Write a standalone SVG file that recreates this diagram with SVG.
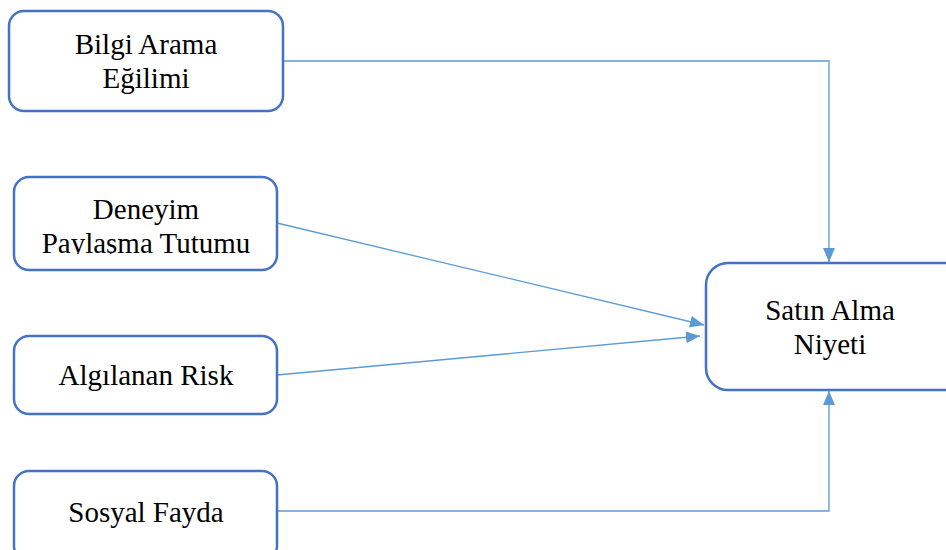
<svg xmlns="http://www.w3.org/2000/svg" width="946" height="550" viewBox="0 0 946 550">
  <style>
    .box { fill: #ffffff; stroke: #4472C4; stroke-width: 2.5; }
    .lbl { font-family: "Liberation Serif", "Times New Roman", serif; font-size: 29px; fill: #000000; text-anchor: middle; }
    .conn { fill: none; stroke: #5B9BD5; stroke-width: 1.3; }
  </style>
  <defs>
    <marker id="arrow" viewBox="0 0 14 12" refX="14" refY="6" markerWidth="14" markerHeight="12" markerUnits="userSpaceOnUse" orient="auto">
      <path d="M0,0 L14,6 L0,12 Z" fill="#5B9BD5"/>
    </marker>
    <clipPath id="clipDeneyim">
      <rect x="14" y="177" width="263" height="77"/>
    </clipPath>
  </defs>
  <rect width="946" height="550" fill="#ffffff"/>

  <g id="connectors">
    <path class="conn" d="M283,61 H829 V262" marker-end="url(#arrow)"/>
    <path class="conn" d="M277,223 L704,325" marker-end="url(#arrow)"/>
    <path class="conn" d="M277,375 L700,336" marker-end="url(#arrow)"/>
    <path class="conn" d="M277,511 H829 V391" marker-end="url(#arrow)"/>
  </g>

  <g id="bilgi-arama">
    <rect class="box" x="9" y="11" width="274" height="100" rx="15"/>
    <text class="lbl" x="146" y="54">Bilgi Arama</text>
    <text class="lbl" x="146" y="88">Eğilimi</text>
  </g>

  <g id="deneyim-paylasma">
    <rect class="box" x="14" y="177" width="263" height="93" rx="15"/>
    <g clip-path="url(#clipDeneyim)">
      <text class="lbl" x="146" y="219">Deneyim</text>
      <text class="lbl" x="146" y="253">Paylaşma Tutumu</text>
    </g>
  </g>

  <g id="algilanan-risk">
    <rect class="box" x="14" y="336" width="263" height="78" rx="15"/>
    <text class="lbl" x="146" y="385">Algılanan Risk</text>
  </g>

  <g id="sosyal-fayda">
    <rect class="box" x="14" y="471" width="263" height="90" rx="15"/>
    <text class="lbl" x="146" y="522">Sosyal Fayda</text>
  </g>

  <g id="satin-alma">
    <rect class="box" x="706" y="263" width="260" height="127" rx="22"/>
    <text class="lbl" x="830" y="320">Satın Alma</text>
    <text class="lbl" x="830" y="354">Niyeti</text>
  </g>
</svg>
